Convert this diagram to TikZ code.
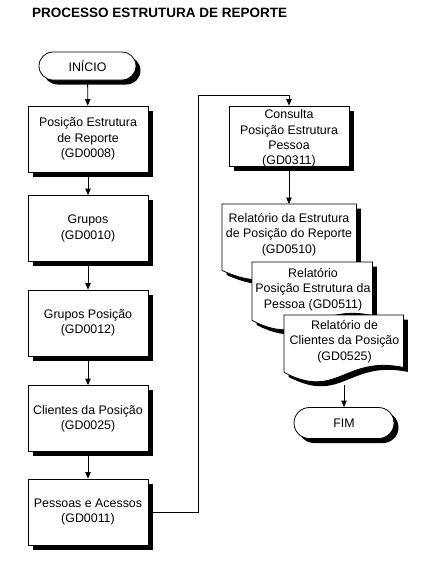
\documentclass[tikz,border=0pt]{standalone}
\usepackage{fontspec}
\setmainfont{Liberation Sans}
\usetikzlibrary{shapes.misc,shadows,arrows.meta,calc}
\newcommand\docshape[3]{%
 \path[#2] ([shift={(#3,#3)}]#1.north west) -- ([shift={(#3,#3)}]#1.north east) -- ([shift={(#3,#3-5)}]#1.south east) .. controls ($(#1.south west)!0.5!(#1.south east)+(#3,#3-17)$) and ($(#1.south west)!0.45!(#1.south east)+(#3,#3+28)$) .. ([shift={(#3,#3)}]#1.south west) -- cycle;}
\begin{document}
\begin{tikzpicture}[x=1pt,y=-1pt,
 txt/.style={font=\fontsize{12.4}{15.3}\selectfont, align=center},
 shad/.style={general shadow={fill=black, shadow xshift=4.5pt, shadow yshift=-4.5pt}},
 box/.style={txt, draw, fill=white, line width=0.8pt, minimum width=120pt, minimum height=66pt, inner sep=0pt, shad},
 term/.style={txt, rounded rectangle, draw, fill=white, line width=0.8pt, inner sep=0pt, shad},
 docnode/.style={rectangle, inner sep=0pt, anchor=north west},
 arr/.style={line width=0.8pt, -{Triangle[length=6.5pt,width=5.5pt]}},
]
\useasboundingbox[fill=white] (0,0) rectangle (422,565);
\node[anchor=west, inner sep=0pt, font=\fontsize{13.5}{16}\selectfont\bfseries] (title) at (32,12.5) {PROCESSO ESTRUTURA DE REPORTE};

\node[term, minimum width=97pt, minimum height=28pt] (ini) at (87.5,66) {INÍCIO};
\node[box] (b1) at (88,139) {Posição Estrutura\\de Reporte\\(GD0008)};
\node[box] (b2) at (88,228.5) {Grupos\\(GD0010)};
\node[box] (b3) at (88,323) {Grupos Posição\\(GD0012)};
\node[box] (b4) at (88,418.5) {Clientes da Posição\\(GD0025)};
\node[box] (b5) at (88,512) {Pessoas e Acessos\\(GD0011)};

\node[box, minimum height=60pt] (c) at (289,136) {};
\node[txt, inner sep=0pt] (ct) at (289,138.5) {Consulta\\Posição Estrutura\\Pessoa\\(GD0311)};

\node[docnode, minimum width=134pt, minimum height=66pt] (d1) at (222,204) {};
\docshape{d1}{fill=black}{4.5}
\docshape{d1}{fill=white, draw=black, line width=0.8pt}{0}
\node[txt, inner sep=0pt] (d1t) at (289,234.5) {Relatório da Estrutura\\de Posição do Reporte\\(GD0510)};

\node[docnode, minimum width=120pt, minimum height=58pt] (d2) at (252,262) {};
\docshape{d2}{fill=black}{4.5}
\docshape{d2}{fill=white, draw=black, line width=0.8pt}{0}
\node[txt, inner sep=0pt] (d2t) at (313,289.5) {Relatório\\Posição Estrutura da\\Pessoa (GD0511)};

\node[docnode, minimum width=119pt, minimum height=57pt] (d3) at (284,315) {};
\docshape{d3}{fill=black}{4.5}
\docshape{d3}{fill=white, draw=black, line width=0.8pt}{0}
\node[txt, inner sep=0pt] (d3t) at (344.5,341.5) {Relatório de\\Clientes da Posição\\(GD0525)};

\node[term, minimum width=100pt, minimum height=31pt] (fim) at (344,423) {FIM};

\draw[arr] (ini) -- (b1);
\draw[arr] (b1) -- (b2);
\draw[arr] (b2) -- (b3);
\draw[arr] (b3) -- (b4);
\draw[arr] (b4) -- (b5);
\draw[arr] (b5.east) -- ++(50,0) |- ([yshift=10pt]c.north) -- (c.north);
\draw[arr] (c.south) -- (d1.north -| c.south);
\coordinate (d3out) at (344,385);
\draw[arr] (d3out) -- (fim.north -| d3out);
\end{tikzpicture}
\end{document}
